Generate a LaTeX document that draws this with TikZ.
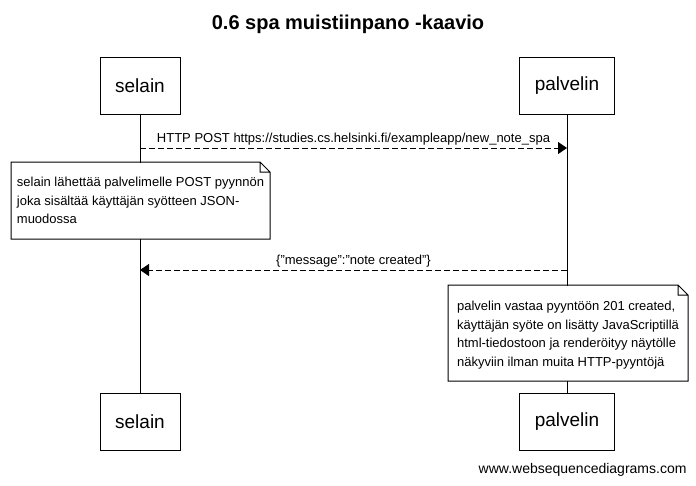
\documentclass[tikz,border=0pt]{standalone}
\usepackage{fontspec}
\setmainfont{Liberation Sans}
\usetikzlibrary{arrows.meta,calc}

\begin{document}
\begin{tikzpicture}[x=1pt,y=-1pt,line width=1pt,
		actor/.style={draw,fill=white,minimum width=80pt,minimum height=57pt,inner sep=0pt,font=\fontsize{19}{22}\selectfont},
		msg/.style={dash pattern=on 6pt off 3pt,-{Triangle[length=9pt,width=12pt]}},
		msglabel/.style={font=\fontsize{13}{15}\selectfont,inner sep=2pt},
		note/.style={fill=white,anchor=north west,align=left,inner xsep=5pt,inner ysep=0pt,font=\fontsize{13}{18.5}\selectfont}]
			\useasboundingbox (0,0) rectangle (696,485);
			\node[font=\bfseries\fontsize{20}{24}\selectfont] (title) at (348,24) {0.6 spa muistiinpano -kaavio};
			\node[actor] (selainTop) at (140,85.5) {selain};
			\node[actor,minimum width=95pt] (palvelinTop) at (567,85.5) {palvelin};
			\node[actor] (selainBot) at (140,422) {selain};
			\node[actor,minimum width=95pt] (palvelinBot) at (567,422) {palvelin};
			\draw (selainTop) -- (selainBot);
			\draw (palvelinTop) -- (palvelinBot);
			\coordinate (sel1) at (140,148);
			\coordinate (pal1) at (567,148);
			\draw[msg] (sel1) -- node[msglabel,above] (post) {HTTP POST https://studies.cs.helsinki.fi/exampleapp/new\_note\_spa} (pal1);
			\node[note,minimum width=258pt,minimum height=76pt] (note1) at (11,162) {selain lähettää palvelimelle POST pyynnön\\joka sisältää käyttäjän syötteen JSON-\\muodossa};
			\coordinate (pal2) at (567,270);
			\coordinate (sel2) at (140,270);
			\draw[msg] (pal2) -- node[msglabel,above] (reply) {\{"message":"note created"\}} (sel2);
			\node[note,inner xsep=6pt,minimum width=239pt,minimum height=95pt] (note2) at (448,285) {\rule{0pt}{14pt}palvelin vastaa pyyntöön 201 created,\\käyttäjän syöte on lisätty JavaScriptillä\\html-tiedostoon ja renderöityy näytölle\\näkyviin ilman muita HTTP-pyyntöjä};
			\foreach \n in {note1,note2}
				\draw (\n.north west) -- ($(\n.north east)+(-10,0)$) -- ($(\n.north east)+(0,10)$) -- (\n.south east) -- (\n.south west) -- cycle
					($(\n.north east)+(-10,0)$) |- ($(\n.north east)+(0,10)$);
			\node[anchor=east,inner sep=0pt,font=\fontsize{14}{16}\selectfont] (credit) at (687,470) {www.websequencediagrams.com};
		\end{tikzpicture}
\end{document}
